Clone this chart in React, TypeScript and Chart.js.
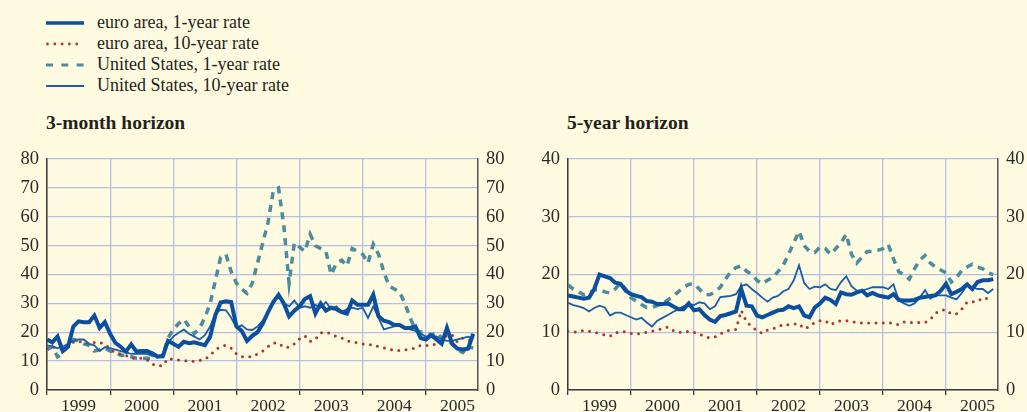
import React, { useEffect, useRef } from "react";
import { Chart, registerables } from "chart.js";

Chart.register(...registerables);

// ---------- data (monthly, Jan 1999 onward) ----------
const START_YEAR = 1999;
const yearTicks = [1999, 2000, 2001, 2002, 2003, 2004, 2005];
const seriesNames = [
  "euro area, 1-year rate",
  "euro area, 10-year rate",
  "United States, 1-year rate",
  "United States, 10-year rate",
];
const m3Ticks = [0, 10, 20, 30, 40, 50, 60, 70, 80];
const y5Ticks = [0, 10, 20, 30, 40];

// 3-month horizon
const m3EuroOneYear = [
  17.5, 16.5, 18.5, 13.5, 15, 22, 23.8, 23.5, 23.5, 25.8,
  21.5, 23.5, 19.5, 16.3, 15, 13.3, 15.8, 13.3, 13.5, 13.5,
  12.7, 11.6, 11.7, 17, 16, 15, 16.7, 16.2, 16.5, 16,
  15.5, 18.5, 26, 30.3, 30.7, 30.5, 22, 20.5, 17, 18.8,
  20, 23, 27, 30.5, 33, 30, 25.5, 27.5, 29, 31.5,
  32.5, 26.5, 30, 27.5, 28.5, 28, 27, 26.5, 31, 29.5,
  29.5, 29.5, 33, 25.5, 24, 23.5, 22.5, 22.5, 21.5, 21.5,
  22, 18, 17.5, 19, 17.5, 16, 21.5, 16, 14.3, 14,
  14.3, 19.5,
];
const m3EuroTenYear = [
  14.5, 15, 14.5, 14, 15, 16.5, 17, 16, 16.3, 16.5,
  16.4, 16, 14, 13, 12.5, 12, 11, 11, 11, 10.5,
  9, 8.3, 8.5, 11, 10.6, 10.4, 10.2, 10, 10, 10.3,
  10.6, 12, 14, 15, 15.5, 14.5, 12.5, 11.5, 11.5, 11.5,
  12.5, 13.5, 15, 16.3, 16.3, 14.8, 14.8, 16, 17.8, 18.8,
  16.8, 17.5, 19.8, 20, 19.5, 18.5, 18, 17, 16.8, 16.3,
  16, 15.7, 15.7, 15, 14.6, 14, 13.8, 13.7, 13.9, 14.2,
  14.5, 15.5, 15.4, 15.5, 16, 17, 19, 19, 16.6, 18,
  17.5, 17,
];
const m3UsOneYear = [
  14, 15, 11.5, 13, 16, 17.5, 17, 16, 15.5, 13.5,
  14, 14.5, 13.5, 13, 12, 12, 11.5, 11, 11, 11,
  11, 11.5, 12, 18, 21, 23, 24.5, 22, 19.5, 21.5,
  25, 30, 38, 46, 47, 41, 37, 35, 33.5, 37,
  44, 51, 58, 69, 70, 57, 37, 51, 49.5, 48,
  54, 50, 49, 48, 40, 44, 45, 43, 49, 48,
  47, 44, 50.5, 47, 41, 36, 35, 34, 30, 25,
  21, 20, 20, 19, 20, 18, 17.5, 16, 14, 13,
  15, 14.5,
];
const m3UsTenYear = [
  15.5, 15, 14.5, 15, 16, 17, 17.5, 17.5, 16, 15.5,
  13.5, 14.8, 14.5, 14, 13.5, 13, 12.5, 12.5, 12.5, 12.5,
  11.8, 11.5, 11.5, 16.5, 18.5, 19.8, 20.9, 19.5, 18.5, 17.5,
  19, 22, 26.5, 27.8, 27.6, 25, 21.6, 22.4, 21, 20.8,
  22, 24, 27, 31, 32.5, 30, 29, 31, 28.5, 29,
  28.5, 29.5, 28.5, 30.5, 28, 29, 27, 28, 28.5, 28,
  28.5, 25, 29, 25, 21, 21.5, 22, 22.5, 21.5, 21,
  20.5, 19.5, 18.5, 19, 18.5, 17.5, 17, 17, 17.5, 18,
  18.5, 18,
];

// 5-year horizon
const y5EuroOneYear = [
  16.4, 16.2, 16, 15.8, 16, 17.5, 20, 19.7, 19.4, 18.6,
  18.4, 17.2, 16.6, 16.3, 16.1, 15.4, 15.3, 14.9, 14.9, 15,
  14.5, 14, 14, 15, 13.8, 14, 13, 12.2, 11.8, 12.8,
  13, 13.3, 13.6, 17.5, 14.6, 14.5, 12.9, 12.6, 13, 13.4,
  13.8, 13.9, 14.5, 14.2, 14.5, 12.9, 12.6, 14.3, 15, 16,
  15.6, 14.9, 16.9, 16.6, 16.5, 16.9, 17.2, 16.4, 16.8, 16.4,
  16.2, 16, 16.6, 15.6, 15.5, 15.5, 15.6, 16, 16.1, 16.3,
  16.4, 17.2, 18.4, 16.6, 17, 17.5, 18.3, 17.5, 18.7, 19,
  19, 19.2,
];
const y5EuroTenYear = [
  10.2, 10, 10.1, 10.3, 10.2, 10, 9.8, 9.5, 9.3, 9.9,
  10.1, 10.1, 9.8, 9.7, 9.8, 10, 10.2, 10.4, 10.6, 10.9,
  10.3, 10, 10, 10.2, 10, 9.7, 9.3, 9, 9.2, 9.7,
  10.2, 10.4, 10.5, 13.8, 11.8, 11, 10.3, 9.8, 10.4, 10.6,
  10.9, 11.4, 11.3, 11.4, 11.5, 10.6, 11, 11.7, 12, 12,
  11.3, 11.8, 12, 12, 11.9, 11.7, 11.6, 11.6, 11.6, 11.6,
  11.6, 11.7, 11.5, 11.3, 11.8, 11.7, 11.7, 11.7, 11.7, 12.2,
  13.3, 13.8, 13.9, 13.2, 13.2, 14, 15.2, 15.3, 15.3, 16,
  15.8, 15.6,
];
const y5UsOneYear = [
  18.2, 17.5, 17, 16.5, 16.8, 17.3, 17.5, 17, 16.8, 17.5,
  18.5, 17.5, 16, 15.4, 14.8, 14.3, 14.3, 14.6, 15, 15.6,
  16.2, 17, 17.8, 18.3, 18.4, 17.5, 16.6, 16.5, 17, 17.8,
  19.2, 20.5, 21.2, 21.5, 20.6, 20, 19, 18.4, 19, 19.5,
  20.5, 21.6, 23.5, 25.5, 27.5, 25, 24, 23.8, 24.8, 24.5,
  23.5, 24.5, 25.5, 27, 23.5, 22, 23, 24, 24, 24.2,
  24.5, 25.2, 22.7, 20.5, 20, 19.2, 21, 22.5, 23.3, 22,
  21.3, 20.8, 20.3, 18.7, 19.5, 20.7, 21.3, 21.8, 21.3, 21,
  20.3, 20,
];
const y5UsTenYear = [
  15.1, 14.7, 14.5, 14.2, 13.6, 14.2, 14.6, 14.3, 12.9, 13.4,
  13.4, 13, 12.6, 12.2, 12.5, 11.7, 11, 12, 12.5, 13,
  13.5, 14, 14.5, 14.9, 14.7, 15.2, 15, 14, 14.5, 16.1,
  16.2, 16.3, 16.6, 18, 18.3, 17.5, 16.8, 16, 15.3, 16,
  16.3, 17.1, 17.5, 19, 21.6, 18.5, 17.5, 17.9, 17.8, 18.3,
  17.5, 17.3, 18.7, 19.7, 18, 17.2, 17.2, 17.5, 17.8, 17.8,
  17.8, 17.5, 18.3, 15.5, 15, 14.6, 15, 16, 17.3, 15.8,
  16.4, 16.4, 16.4, 16, 15.7, 16.8, 18.1, 17.8, 17.5, 17.5,
  16.8, 17.5,
];

// ---------- styles ----------
const BG = "#fffbe0";
const GRID = "#b5bee6";
const AXIS = "#3a3a3a";
const TICK_COLOR = "#2a2a2a";
const FONT = '"Liberation Serif", "Times New Roman", serif';
const C_EURO1 = "#0b4f9f";
const C_EURO10 = "#b2352c";
const C_US1 = "#4b8c9e";
const C_US10 = "#1a5ea9";
const X_MAX = START_YEAR + 81.9 / 12;

const toPoints = (vals: number[]) =>
  vals.map((v, i) => ({ x: START_YEAR + i / 12, y: v }));

type PanelProps = {
  left: number;
  width: number;
  euro1: number[];
  euro10: number[];
  us1: number[];
  us10: number[];
  ticks: number[];
  leftW: number;
  rightW: number;
};

function Panel(p: PanelProps) {
  const ref = useRef<HTMLCanvasElement | null>(null);
  useEffect(() => {
    if (!ref.current) return;
    const yMax = p.ticks[p.ticks.length - 1];
    const yTickCfg = {
      padding: 8,
      color: TICK_COLOR,
      font: { family: FONT, size: 18.5 },
    };
    const chart = new Chart(ref.current, {
      type: "line",
      data: {
        datasets: [
          {
            label: seriesNames[0],
            data: toPoints(p.euro1),
            borderColor: C_EURO1,
            borderWidth: 4,
            borderJoinStyle: "miter",
          },
          {
            label: seriesNames[3],
            data: toPoints(p.us10),
            borderColor: C_US10,
            borderWidth: 1.8,
          },
          {
            label: seriesNames[1],
            data: toPoints(p.euro10),
            borderColor: C_EURO10,
            borderWidth: 3,
            borderDash: [0, 7.3],
            borderCapStyle: "round",
          },
          {
            label: seriesNames[2],
            data: toPoints(p.us1),
            borderColor: C_US1,
            borderWidth: 3.5,
            borderDash: [7, 6],
          },
        ],
      },
      options: {
        animation: false,
        responsive: false,
        maintainAspectRatio: false,
        parsing: false,
        layout: { padding: { top: 18, left: 0, right: 0, bottom: 0 } },
        plugins: { legend: { display: false }, tooltip: { enabled: false } },
        elements: { point: { radius: 0 }, line: { tension: 0 } },
        scales: {
          x: {
            type: "linear",
            min: START_YEAR,
            max: X_MAX,
            afterBuildTicks: (s: any) => {
              s.ticks = yearTicks.map((v) => ({ value: v }));
            },
            afterFit: (s: any) => {
              s.height = 22;
            },
            grid: {
              color: GRID,
              lineWidth: 1.3,
              drawTicks: true,
              tickLength: 5,
              tickColor: AXIS,
              tickWidth: 1.3,
            },
            border: { color: AXIS, width: 1.5 },
            ticks: {
              autoSkip: false,
              maxRotation: 0,
              labelOffset: 31.6,
              padding: 1,
              color: TICK_COLOR,
              font: { family: FONT, size: 17.5 },
              callback: (v: any) => String(v),
            },
          },
          y: {
            position: "left",
            min: 0,
            max: yMax,
            afterBuildTicks: (s: any) => {
              s.ticks = p.ticks.map((v) => ({ value: v }));
            },
            afterFit: (s: any) => {
              s.width = p.leftW;
            },
            grid: { color: GRID, lineWidth: 1.3, drawTicks: false },
            border: { color: AXIS, width: 1.5 },
            ticks: yTickCfg,
          },
          y2: {
            position: "right",
            min: 0,
            max: yMax,
            afterBuildTicks: (s: any) => {
              s.ticks = p.ticks.map((v) => ({ value: v }));
            },
            afterFit: (s: any) => {
              s.width = p.rightW;
            },
            grid: { drawOnChartArea: false, drawTicks: false },
            border: { color: "#555", width: 1.5 },
            ticks: yTickCfg,
          },
        },
      },
    } as any);
    return () => chart.destroy();
  }, []);
  return (
    <canvas
      ref={ref}
      width={p.width}
      height={272}
      style={{
        position: "absolute",
        left: p.left,
        top: 140,
        width: p.width,
        height: 272,
      }}
    />
  );
}

function LegendSample({ idx }: { idx: number }) {
  const common = { x1: 0, x2: 38, y1: 4, y2: 4 };
  if (idx === 0)
    return <line {...common} stroke={C_EURO1} strokeWidth={3.6} />;
  if (idx === 1)
    return (
      <line
        x1={1.5}
        x2={38}
        y1={4}
        y2={4}
        stroke={C_EURO10}
        strokeWidth={2.8}
        strokeDasharray="0 7.3"
        strokeLinecap="round"
      />
    );
  if (idx === 2)
    return (
      <line {...common} stroke={C_US1} strokeWidth={3.2} strokeDasharray="7 8.3" />
    );
  return <line {...common} stroke={C_US10} strokeWidth={2} />;
}

export default function App() {
  useEffect(() => {
    document.body.style.margin = "0";
  }, []);
  return (
    <div
      style={{
        position: "fixed",
        left: 0,
        top: 0,
        width: 1027,
        height: 412,
        background: BG,
        overflow: "hidden",
        fontFamily: FONT,
        color: "#231f20",
      }}
    >
      {seriesNames.map((name, i) => (
        <React.Fragment key={name}>
          <svg
            width={38}
            height={8}
            style={{ position: "absolute", left: 46, top: 22.7 + 21.1 * i - 4 }}
          >
            <LegendSample idx={i} />
          </svg>
          <div
            style={{
              position: "absolute",
              left: 97,
              top: 28.3 + 21.1 * i - 16.6,
              fontSize: 18,
              lineHeight: "21px",
              whiteSpace: "nowrap",
            }}
          >
            {name}
          </div>
        </React.Fragment>
      ))}
      <div
        style={{
          position: "absolute",
          left: 46,
          top: 112.7,
          fontSize: 19.5,
          lineHeight: 1,
          fontWeight: "bold",
          whiteSpace: "nowrap",
        }}
      >
        3-month horizon
      </div>
      <div
        style={{
          position: "absolute",
          left: 567,
          top: 112.7,
          fontSize: 19.5,
          lineHeight: 1,
          fontWeight: "bold",
          whiteSpace: "nowrap",
        }}
      >
        5-year horizon
      </div>
      <Panel
        left={0}
        width={520}
        euro1={m3EuroOneYear}
        euro10={m3EuroTenYear}
        us1={m3UsOneYear}
        us10={m3UsTenYear}
        ticks={m3Ticks}
        leftW={47}
        rightW={42}
      />
      <Panel
        left={520}
        width={507}
        euro1={y5EuroOneYear}
        euro10={y5EuroTenYear}
        us1={y5UsOneYear}
        us10={y5UsTenYear}
        ticks={y5Ticks}
        leftW={48}
        rightW={29}
      />
    </div>
  );
}
